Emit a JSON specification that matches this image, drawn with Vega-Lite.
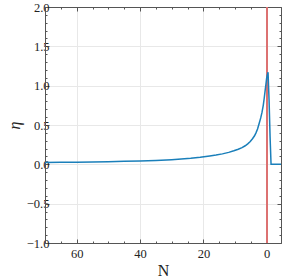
{
  "$schema": "https://vega.github.io/schema/vega-lite/v6.json",
  "autosize": {"type": "none"},
  "width": 236,
  "height": 236,
  "padding": {"left": 45, "top": 7, "right": 1, "bottom": 35},
  "background": "white",
  "config": {
    "view": {"stroke": "#555555", "strokeWidth": 1},
    "font": "Liberation Serif",
    "axis": {
      "labelColor": "#222222",
      "titleColor": "#222222",
      "domainColor": "#555555",
      "tickColor": "#555555",
      "gridColor": "#e8e8e8"
    }
  },
  "data": {
    "values": [
      {"N": 70, "eta": 0.024},
      {"N": 65, "eta": 0.026},
      {"N": 60, "eta": 0.028},
      {"N": 55, "eta": 0.031},
      {"N": 50, "eta": 0.034},
      {"N": 45, "eta": 0.038},
      {"N": 40, "eta": 0.043},
      {"N": 35, "eta": 0.05},
      {"N": 30, "eta": 0.059},
      {"N": 27, "eta": 0.067},
      {"N": 24, "eta": 0.077},
      {"N": 21, "eta": 0.09},
      {"N": 18, "eta": 0.106},
      {"N": 16, "eta": 0.118},
      {"N": 14, "eta": 0.133},
      {"N": 12, "eta": 0.152},
      {"N": 10.4, "eta": 0.172},
      {"N": 9, "eta": 0.192},
      {"N": 7.8, "eta": 0.212},
      {"N": 6.8, "eta": 0.236},
      {"N": 6, "eta": 0.26},
      {"N": 5.2, "eta": 0.29},
      {"N": 4.5, "eta": 0.325},
      {"N": 3.9, "eta": 0.36},
      {"N": 3.4, "eta": 0.4},
      {"N": 2.9, "eta": 0.45},
      {"N": 2.4, "eta": 0.52},
      {"N": 1.9, "eta": 0.59},
      {"N": 1.5, "eta": 0.66},
      {"N": 1.1, "eta": 0.75},
      {"N": 0.8, "eta": 0.84},
      {"N": 0.5, "eta": 0.94},
      {"N": 0.25, "eta": 1.02},
      {"N": 0.05, "eta": 1.09},
      {"N": -0.2, "eta": 1.14},
      {"N": -0.41, "eta": 1.17},
      {"N": -0.73, "eta": 0.82},
      {"N": -1.05, "eta": 0.35},
      {"N": -1.36, "eta": 0.0},
      {"N": -4.5, "eta": 0.0}
    ]
  },
  "layer": [
    {
      "mark": {"type": "rule", "color": "#dc7272", "strokeWidth": 1.5},
      "encoding": {
        "x": {"datum": 0, "type": "quantitative", "axis": null}
      }
    },
    {
      "mark": {"type": "line", "color": "#1a7fba", "strokeWidth": 1.5, "clip": true},
      "encoding": {
        "x": {
          "field": "N", "type": "quantitative",
          "scale": {"domain": [-4.5, 70], "reverse": true, "nice": false, "zero": false},
          "axis": {
            "orient": "bottom",
            "title": "N",
            "titleFont": "Liberation Serif",
            "titleFontSize": 16,
            "titleFontWeight": "normal",
            "titlePadding": 3,
            "values": [0, 5, 10, 15, 20, 25, 30, 35, 40, 45, 50, 55, 60, 65, 70],
            "labelExpr": "datum.value % 20 === 0 ? format(datum.value, 'd') : ''",
            "labelFont": {"condition": {"test": "true", "value": "Liberation Serif"}, "value": "Liberation Serif"},
            "labelFontSize": 12.5,
            "labelPadding": 8,
            "labelFlush": false,
            "grid": true,
            "gridOpacity": {"condition": {"test": "datum.value % 20 === 0", "value": 1}, "value": 0},
            "tickSize": {"condition": {"test": "datum.value % 20 === 0", "value": -4}, "value": -2}
          }
        },
        "y": {
          "field": "eta", "type": "quantitative",
          "scale": {"domain": [-1, 2], "nice": false, "zero": false},
          "axis": {
            "orient": "left",
            "title": "η",
            "titleFont": "Liberation Serif",
            "titleFontSize": 16,
            "titleFontStyle": "italic",
            "titleFontWeight": "normal",
            "titlePadding": 4,
            "values": [-1, -0.9, -0.8, -0.7, -0.6, -0.5, -0.4, -0.3, -0.2, -0.1, 0, 0.1, 0.2, 0.3, 0.4, 0.5, 0.6, 0.7, 0.8, 0.9, 1, 1.1, 1.2, 1.3, 1.4, 1.5, 1.6, 1.7, 1.8, 1.9, 2],
            "labelExpr": "abs(datum.value*2 - round(datum.value*2)) < 1e-6 ? format(datum.value, '.1f') : ''",
            "labelFont": {"condition": {"test": "true", "value": "Liberation Serif"}, "value": "Liberation Serif"},
            "labelFontSize": 12.5,
            "labelPadding": 0,
            "labelFlush": false,
            "grid": true,
            "gridOpacity": {"condition": {"test": "abs(datum.value*2 - round(datum.value*2)) < 1e-6", "value": 1}, "value": 0},
            "tickSize": {"condition": {"test": "abs(datum.value*2 - round(datum.value*2)) < 1e-6", "value": -4}, "value": -2}
          }
        }
      }
    },
    {
      "mark": {"type": "line", "opacity": 0},
      "encoding": {
        "x": {
          "field": "N", "type": "quantitative",
          "axis": {
            "orient": "top", "title": null, "labels": false, "grid": false,
            "values": [0, 5, 10, 15, 20, 25, 30, 35, 40, 45, 50, 55, 60, 65, 70],
            "tickSize": {"condition": {"test": "datum.value % 20 === 0", "value": -4}, "value": -2}
          }
        },
        "y": {
          "field": "eta", "type": "quantitative",
          "axis": {
            "orient": "right", "title": null, "labels": false, "grid": false,
            "values": [-1, -0.9, -0.8, -0.7, -0.6, -0.5, -0.4, -0.3, -0.2, -0.1, 0, 0.1, 0.2, 0.3, 0.4, 0.5, 0.6, 0.7, 0.8, 0.9, 1, 1.1, 1.2, 1.3, 1.4, 1.5, 1.6, 1.7, 1.8, 1.9, 2],
            "tickSize": {"condition": {"test": "abs(datum.value*2 - round(datum.value*2)) < 1e-6", "value": -4}, "value": -2}
          }
        }
      }
    }
  ],
  "resolve": {"axis": {"x": "independent", "y": "independent"}}
}
